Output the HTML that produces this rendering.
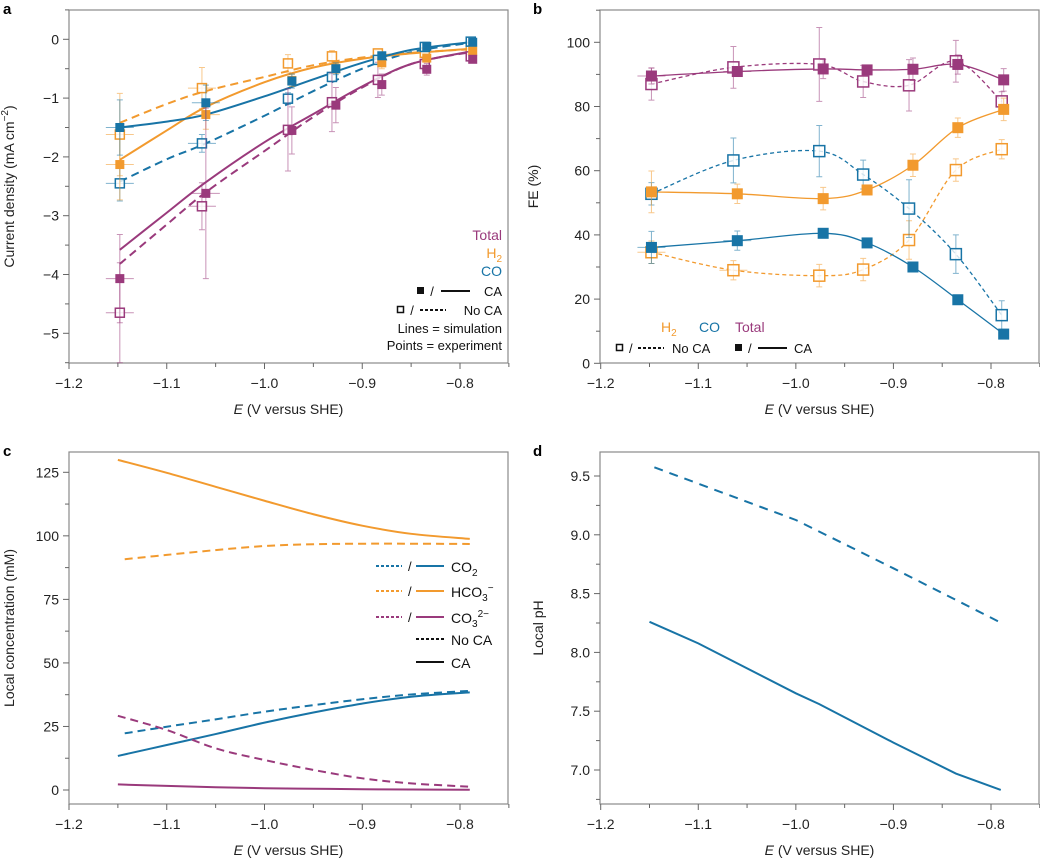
<!DOCTYPE html>
<html><head><meta charset="utf-8"><style>
body{margin:0;background:#fff;}
svg{display:block;font-family:"Liberation Sans",Arial,sans-serif;}
</style></head><body>
<svg id="fig" width="1040" height="859" viewBox="0 0 1040 859"></svg>
<script>
// ---------- data ----------
const potCA = [-1.148,-1.06,-0.972,-0.927,-0.88,-0.834,-0.787];
const potNo = [-1.148,-1.064,-0.976,-0.931,-0.884,-0.836,-0.789];
// panel a: current density (mA cm-2)
const jCO_CA = [-1.50,-1.08,-0.71,-0.50,-0.28,-0.12,-0.05];
const jH2_CA = [-2.13,-1.28,-0.70,-0.50,-0.40,-0.32,-0.20];
const jTot_CA = [-4.07,-2.62,-1.55,-1.12,-0.77,-0.51,-0.34];
const jCO_No = [-2.45,-1.77,-1.01,-0.64,-0.35,-0.13,-0.04];
const jH2_No = [-1.62,-0.83,-0.41,-0.29,-0.24,-0.23,-0.18];
const jTot_No = [-4.65,-2.84,-1.54,-1.07,-0.69,-0.42,-0.29];
const eCO_CA=[0.47,0.3,0.12,0.1,0.05,0.03,0.02], eH2_CA=[0.6,0.25,0.1,0.08,0.1,0.05,0.03], eTot_CA=[0.75,1.45,0.4,0.3,0.18,0.1,0.05];
const eCO_No=[0.3,0.15,0.1,0.08,0.05,0.03,0.02], eH2_No=[0.7,0.35,0.15,0.1,0.05,0.05,0.03], eTot_No=[0.85,0.4,0.7,0.5,0.3,0.1,0.05];
const simE = [-1.148,-1.10,-1.06,-1.0,-0.95,-0.9,-0.85,-0.79];
const sCO_CA = [-1.50,-1.40,-1.28,-0.97,-0.68,-0.40,-0.18,-0.05];
const sH2_CA = [-2.05,-1.55,-1.15,-0.73,-0.48,-0.33,-0.24,-0.16];
const sTot_CA = [-3.58,-2.95,-2.43,-1.75,-1.27,-0.80,-0.42,-0.21];
const sCO_No = [-2.42,-2.04,-1.77,-1.30,-0.88,-0.50,-0.22,-0.06];
const sH2_No = [-1.42,-1.10,-0.88,-0.64,-0.44,-0.31,-0.23,-0.17];
const sTot_No = [-3.82,-3.15,-2.60,-1.90,-1.32,-0.82,-0.42,-0.22];
// panel b: FE (%)
const feTot_CA=[89.5,90.9,91.7,91.4,91.6,93.1,88.3], feTot_No=[87,92.2,93.1,87.8,86.6,94.1,81.6];
const feH2_CA=[53.4,52.8,51.3,54,61.7,73.4,79.1], feH2_No=[34.6,29,27.3,29.2,38.4,60.2,66.7];
const feCO_CA=[36.1,38.2,40.5,37.5,30,19.8,9.1], feCO_No=[52.8,63.2,66.1,58.8,48.2,34,15];
const efTot_CA=[2.5,1,3,1.5,3.5,3,3.5], efTot_No=[5,6.5,11.5,5,8,6.5,3];
const efH2_CA=[6.5,3,3.5,1.5,3.5,3,3.5], efH2_No=[3.5,3,3.5,3.5,6,3.5,3];
const efCO_CA=[5,3,1,1,1,1,1], efCO_No=[3.5,7,8,4.5,9,6,4.5];
// panel c: local concentration (mM)
const cE = [-1.15,-1.1,-1.05,-1.0,-0.95,-0.9,-0.85,-0.79];
const cENo = [-1.143,-1.1,-1.05,-1.0,-0.95,-0.9,-0.85,-0.79];
const cHCO3_CA=[129.9,124.8,119.3,113.8,108.5,104,100.8,98.8];
const cHCO3_No=[90.8,92.5,94.4,96,96.7,96.9,96.9,96.8];
const cCO2_CA=[13.4,17.7,22,26.5,30.5,34,36.7,38.4];
const cCO2_No=[22.3,24.9,27.8,30.8,33.4,35.7,37.6,39];
const cCO3_CA=[2.2,1.6,1.1,0.7,0.5,0.3,0.2,0.1];
const cCO3_No=[29.2,23.6,16.4,11.8,7.9,4.6,2.6,1.3];
// panel d: local pH
const pE_No=[-1.145,-1.0,-0.9,-0.79], pH_No=[9.574,9.126,8.715,8.253];
const pE_CA=[-1.15,-1.1,-1.0,-0.976,-0.9,-0.836,-0.79], pH_CA=[8.26,8.077,7.652,7.56,7.233,6.97,6.83];
const xTicks=[-1.2,-1.1,-1.0,-0.9,-0.8], xTickLabels=["\u22121.2","\u22121.1","\u22121.0","\u22120.9","\u22120.8"];

const PUR="#9a3a7c", ORA="#f29a2e", BLU="#1874a6";
const NS="http://www.w3.org/2000/svg";
const svg=document.getElementById('fig');
function mk(tag,attrs,parent){const e=document.createElementNS(NS,tag);for(const k in attrs)e.setAttribute(k,attrs[k]);(parent||svg).appendChild(e);return e;}
function lin(d0,d1,r0,r1){return v=>r0+(v-d0)*(r1-r0)/(d1-d0);}
function smooth(pts){let d="M"+pts[0][0]+","+pts[0][1];for(let i=0;i<pts.length-1;i++){const p0=pts[i-1]||pts[i],p1=pts[i],p2=pts[i+1],p3=pts[i+2]||p2;
 const c1=[p1[0]+(p2[0]-p0[0])/6,p1[1]+(p2[1]-p0[1])/6],c2=[p2[0]-(p3[0]-p1[0])/6,p2[1]-(p3[1]-p1[1])/6];
 d+=" C"+c1+" "+c2+" "+p2;}return d;}

function panel(P){
 const g=mk('g',{});
 
 
 const fr=mk('rect',{x:P.L,y:P.T,width:P.R-P.L,height:P.B-P.T,fill:'none',stroke:'#8a8a8a','stroke-width':1.2},g);
 
 
 const lt=mk('text',{x:P.id=='a'||P.id=='c'?3:533,y:P.T+4,'font-size':15,'font-weight':'bold'},g);lt.textContent=P.id;
 
 
 for(let v=-1.2;v<=-0.749;v+=0.05){const x=P.x(v);const major=Math.abs(Math.round(v*10)-v*10)<0.01;
  const t=mk('line',{x1:x,x2:x,y1:P.B,y2:P.B+(major?6:4),stroke:'#666','stroke-width':1},g);
  
  }
 xTicks.forEach((v,i)=>{const t=mk('text',{x:P.x(v),y:P.B+25,'font-size':14,'text-anchor':'middle',fill:'#222'},g);t.textContent=xTickLabels[i];
  
  });
 const xt=mk('text',{x:(P.L+P.R)/2,y:P.B+51,'font-size':14,'text-anchor':'middle',fill:'#222'},g);
 xt.innerHTML='<tspan font-style="italic">E</tspan> (V versus SHE)';
 
 
 for(let v=P.ymin;v<=P.ymax+1e-9;v+=P.minor){const y=P.y(v);if(y<P.T-1.5||y>P.B+1.5)continue;
  const major=Math.abs(v/P.major-Math.round(v/P.major))<1e-6;
  const t=mk('line',{x1:P.L,x2:P.L-(major?6:4),y1:y,y2:y,stroke:'#666','stroke-width':1},g);
  
  
  if(major){const l=mk('text',{x:P.L-10,y:y+5,'font-size':14,'text-anchor':'end',fill:'#222'},g);l.textContent=P.fmt(v);
   
   }}
 const yc=(P.T+P.B)/2;
 const yt=mk('text',{x:P.ytx,y:yc,'font-size':14,'text-anchor':'middle',fill:'#222',transform:`rotate(-90 ${P.ytx} ${yc})`},g);
 yt.innerHTML=P.ytitle;
 
 
 return g;
}
function line(P,g,xs,ys,color,dash,w,name,sm){
 const pts=xs.map((x,i)=>[P.x(x),P.y(ys[i])]);
 const d=sm?smooth(pts):"M"+pts.map(p=>p.join(",")).join(" L");
 const p=mk('path',{d:d,fill:'none',stroke:color,'stroke-width':w,'stroke-dasharray':dash||'none'},g);
 
 
}
function points(P,g,xs,ys,es,color,filled,sz,name,xerr){
 xs.forEach((x,i)=>{const cx=P.x(x),cy=P.y(ys[i]);
  const eb=mk('path',{d:`M${cx},${P.y(ys[i]-es[i])} L${cx},${P.y(ys[i]+es[i])} M${cx-3},${P.y(ys[i]-es[i])} h6 M${cx-3},${P.y(ys[i]+es[i])} h6`+(xerr&&i<2?` M${cx-14},${cy} h28`:''),stroke:color,'stroke-width':1,opacity:0.55,fill:'none'},g);
  
  
  const r=mk('rect',{x:cx-sz/2,y:cy-sz/2,width:sz,height:sz,fill:filled?color:'#fff',stroke:filled?'none':color,'stroke-width':1.5,'fill-opacity':filled?1:0.8},g);
  
  
 });
}
function txt(g,x,y,s,color,size,anchor,name){const t=mk('text',{x:x,y:y,'font-size':size,fill:color,'text-anchor':anchor||'start'},g);t.innerHTML=s;
 
 return t;}

// ---------- panel a ----------
const A={id:'a',L:69,R:508,T:10,B:363,x:lin(-1.2,-0.8,69,460),y:lin(0,-5,39.3,333.3),ymin:-5.5,ymax:0.5,minor:0.5,major:1,
 fmt:v=>v<0?'\u2212'+(-v):''+v,ytx:14,ytitle:'Current density (mA cm<tspan dy="-6" font-size="10">\u22122</tspan><tspan dy="6">)</tspan>'};
const gA=panel(A);
line(A,gA,simE,sH2_No,ORA,'8,5',2,'h2-noca-sim',true);
line(A,gA,simE,sCO_No,BLU,'8,5',2,'co-noca-sim',true);
line(A,gA,simE,sTot_No,PUR,'8,5',2,'total-noca-sim',true);
line(A,gA,simE,sH2_CA,ORA,null,2,'h2-ca-sim',true);
line(A,gA,simE,sCO_CA,BLU,null,2,'co-ca-sim',true);
line(A,gA,simE,sTot_CA,PUR,null,2,'total-ca-sim',true);
points(A,gA,potNo,jH2_No,eH2_No,ORA,false,9,'h2-noca',true);
points(A,gA,potNo,jCO_No,eCO_No,BLU,false,9,'co-noca',true);
points(A,gA,potNo,jTot_No,eTot_No,PUR,false,9,'total-noca',true);
points(A,gA,potCA,jH2_CA,eH2_CA,ORA,true,9,'h2-ca',true);
points(A,gA,potCA,jCO_CA,eCO_CA,BLU,true,9,'co-ca',true);
points(A,gA,potCA,jTot_CA,eTot_CA,PUR,true,9,'total-ca',true);
txt(gA,502,240,'Total',PUR,14,'end','legend-total');
txt(gA,502,258,'H<tspan dy="4" font-size="10">2</tspan>',ORA,14,'end','legend-h2');
txt(gA,502,276,'CO',BLU,14,'end','legend-co');
txt(gA,502,296,'CA','#111',13,'end','legend-ca');
txt(gA,502,315,'No CA','#111',13,'end','legend-noca');
txt(gA,502,333,'Lines = simulation','#111',13,'end','legend-lines');
txt(gA,502,350,'Points = experiment','#111',13,'end','legend-points');
txt(gA,432,296,'/','#111',13,'middle','legend-slash');
txt(gA,412,315,'/','#111',13,'middle','legend-slash');
let s=mk('rect',{x:417,y:287,width:7,height:7,fill:'#111'},gA);
s=mk('line',{x1:441,x2:470,y1:291,y2:291,stroke:'#111','stroke-width':2},gA);
s=mk('rect',{x:397.5,y:306.5,width:6,height:6,fill:'none',stroke:'#111','stroke-width':1.5},gA);
s=mk('line',{x1:420,x2:446,y1:310,y2:310,stroke:'#111','stroke-width':2,'stroke-dasharray':'3,2'},gA);

// ---------- panel b ----------
const B={id:'b',L:600,R:1039,T:10,B:363,x:lin(-1.2,-0.8,600.7,991),y:lin(0,100,363.3,42.3),ymin:0,ymax:110,minor:10,major:20,
 fmt:v=>''+v,ytx:538,ytitle:'FE (%)'};
const gB=panel(B);
line(B,gB,potNo,feTot_No,PUR,'4,3',1.3,'total-noca-fit',true);
line(B,gB,potNo,feH2_No,ORA,'4,3',1.3,'h2-noca-fit',true);
line(B,gB,potNo,feCO_No,BLU,'4,3',1.3,'co-noca-fit',true);
line(B,gB,potCA,feTot_CA,PUR,null,1.3,'total-ca-fit',true);
line(B,gB,potCA,feH2_CA,ORA,null,1.3,'h2-ca-fit',true);
line(B,gB,potCA,feCO_CA,BLU,null,1.3,'co-ca-fit',true);
points(B,gB,potNo,feTot_No,efTot_No,PUR,false,11,'total-noca-fe',false);
points(B,gB,potNo,feH2_No,efH2_No,ORA,false,11,'h2-noca-fe',true);
points(B,gB,potNo,feCO_No,efCO_No,BLU,false,11,'co-noca-fe',false);
points(B,gB,potCA,feTot_CA,efTot_CA,PUR,true,11,'total-ca-fe',true);
points(B,gB,potCA,feH2_CA,efH2_CA,ORA,true,11,'h2-ca-fe',false);
points(B,gB,potCA,feCO_CA,efCO_CA,BLU,true,11,'co-ca-fe',true);
txt(gB,661,332,'H<tspan dy="4" font-size="10">2</tspan>',ORA,14,'start','legend-h2');
txt(gB,699,332,'CO',BLU,14,'start','legend-co');
txt(gB,735,332,'Total',PUR,14,'start','legend-total');
s=mk('rect',{x:616.5,y:344.5,width:6,height:6,fill:'none',stroke:'#111','stroke-width':1.5},gB);
txt(gB,629,353,'/','#111',13,'start','legend-slash');
s=mk('line',{x1:638,x2:664,y1:348,y2:348,stroke:'#111','stroke-width':2,'stroke-dasharray':'3,2'},gB);
txt(gB,672,353,'No CA','#111',13,'start','legend-noca');
s=mk('rect',{x:735,y:344,width:7,height:7,fill:'#111'},gB);
txt(gB,748,353,'/','#111',13,'start','legend-slash');
s=mk('line',{x1:758,x2:787,y1:348,y2:348,stroke:'#111','stroke-width':2},gB);
txt(gB,794,353,'CA','#111',13,'start','legend-ca');

// ---------- panel c ----------
const C={id:'c',L:69,R:508,T:452,B:804,x:lin(-1.2,-0.8,69,460),y:lin(0,125,790,472.3),ymin:-12.5,ymax:137.5,minor:12.5,major:25,
 fmt:v=>''+v,ytx:14,ytitle:'Local concentration (mM)'};
const gC=panel(C);
line(C,gC,cE,cHCO3_CA,ORA,null,2,'hco3-ca',true);
line(C,gC,cENo,cHCO3_No,ORA,'8,5',2,'hco3-noca',true);
line(C,gC,cE,cCO2_CA,BLU,null,2,'co2-ca',true);
line(C,gC,cENo,cCO2_No,BLU,'8,5',2,'co2-noca',true);
line(C,gC,cE,cCO3_CA,PUR,null,2,'co3-ca',true);
line(C,gC,cE,cCO3_No,PUR,'8,5',2,'co3-noca',true);
[[566,BLU,'CO<tspan dy="4" font-size="10">2</tspan>','co2'],[591,ORA,'HCO<tspan dy="4" font-size="10">3</tspan><tspan dy="-10" font-size="10">\u2212</tspan>','hco3'],[617,PUR,'CO<tspan dy="4" font-size="10">3</tspan><tspan dy="-10" font-size="10">2\u2212</tspan>','co3']].forEach(r=>{
 let e=mk('line',{x1:376,x2:402,y1:r[0],y2:r[0],stroke:r[1],'stroke-width':2,'stroke-dasharray':'3,2'},gC);
 
 
 txt(gC,408,r[0]+5,'/','#111',13,'start','legend-slash');
 e=mk('line',{x1:416,x2:444,y1:r[0],y2:r[0],stroke:r[1],'stroke-width':2},gC);
 
 
 txt(gC,451,r[0]+6,r[2],'#111',14,'start','legend-'+r[3]);
});
s=mk('line',{x1:416,x2:444,y1:639,y2:639,stroke:'#111','stroke-width':2,'stroke-dasharray':'3,2'},gC);
txt(gC,451,645,'No CA','#111',14,'start','legend-noca');
s=mk('line',{x1:416,x2:444,y1:662,y2:662,stroke:'#111','stroke-width':2},gC);
txt(gC,451,668,'CA','#111',14,'start','legend-ca');

// ---------- panel d ----------
const D={id:'d',L:600,R:1039,T:452,B:804,x:lin(-1.2,-0.8,600.7,991),y:lin(9.5,7.0,476,770),ymin:6.75,ymax:9.75,minor:0.25,major:0.5,
 fmt:v=>v.toFixed(1),ytx:543,ytitle:'Local pH'};
const gD=panel(D);
line(D,gD,pE_No,pH_No,BLU,'9,7',2,'ph-noca',false);
line(D,gD,pE_CA,pH_CA,BLU,null,2,'ph-ca',false);
</script>
</body></html>
